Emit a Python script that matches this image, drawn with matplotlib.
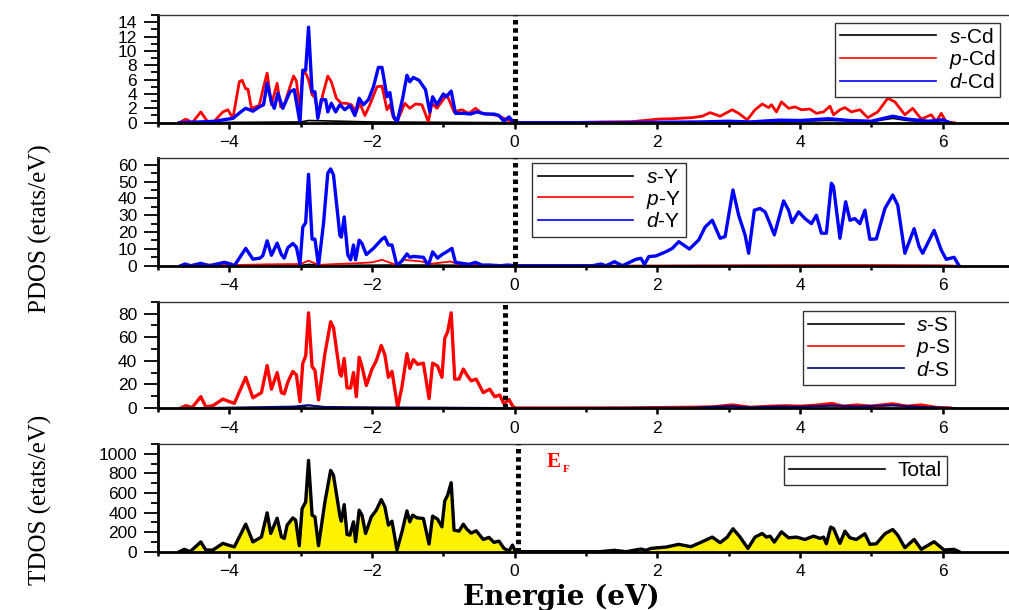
import matplotlib.pyplot as plt
from matplotlib.ticker import MultipleLocator

# ---- data (energy in eV, DOS in states/eV) ----
# Cd
e_scd = [-4.7, -3.0, -2.89, -2.0, 0.0, 2.5, 3.5, 4.0, 4.4, 4.7, 5.0, 5.3, 5.5, 5.8, 6.1]
scd = [0, 0.1, 0.3, 0.1, 0, 0.05, 0.1, 0.2, 0.3, 0.25, 0.15, 0.6, 0.3, 0.1, 0]

e_pcd = [-4.70, -4.61, -4.52, -4.40, -4.31, -4.23, -4.09, -4.02, -3.95, -3.86, -3.82, -3.77, -3.74,
         -3.69, -3.58, -3.52, -3.47, -3.41, -3.33, -3.28, -3.23, -3.15, -3.10, -3.06, -3.01, -2.97,
         -2.92, -2.89, -2.84, -2.80, -2.75, -2.69, -2.62, -2.57, -2.50, -2.43, -2.36, -2.29, -2.22,
         -2.17, -2.10, -2.03, -1.93, -1.86, -1.79, -1.75, -1.70, -1.65, -1.54, -1.47, -1.39, -1.30,
         -1.21, -1.16, -1.09, -0.95, -0.85, -0.74, -0.64, -0.55, -0.46, -0.36, -0.24, -0.15, -0.06, 0.01,
         0.72, 1.19, 1.65, 2.02, 2.21, 2.49, 2.63, 2.74, 2.88, 3.05, 3.14, 3.26, 3.37, 3.47, 3.56, 3.60,
         3.67, 3.74, 3.84, 3.93, 4.02, 4.14, 4.23, 4.33, 4.42, 4.47, 4.56, 4.63, 4.72, 4.84, 4.95, 5.09,
         5.23, 5.33, 5.47, 5.58, 5.70, 5.84, 5.91, 5.98, 6.05, 6.16]
pcd = [0, 0.5, 0, 1.5, 0.2, 0, 1.5, 1.8, 0.6, 5.7, 5.9, 4.7, 4.7,
       2.0, 2.4, 5.0, 6.9, 2.5, 5.5, 2.2, 2.5, 5.0, 6.5, 5.8, 1.8, 7.3,
       6.7, 6.0, 3.9, 3.5, 1.0, 3.9, 6.5, 5.7, 3.4, 2.7, 2.7, 2.5, 1.5,
       2.7, 1.0, 2.5, 5.0, 5.1, 1.8, 2.5, 0.7, 0.1, 2.7, 2.0, 2.6, 2.5,
       0.1, 2.7, 2.0, 3.9, 1.5, 1.8, 1.3, 2.0, 1.3, 1.2, 1.0, 0.6, 0.2, 0,
       0, 0.1, 0.15, 0.5, 0.55, 0.7, 0.9, 1.4, 0.9, 1.8, 1.3, 0.4, 1.8, 2.6, 2.1, 2.5,
       1.5, 2.9, 2.0, 2.2, 1.8, 1.9, 1.3, 1.5, 2.3, 1.1, 1.8, 2.1, 1.5, 1.8, 0.7, 1.5,
       3.4, 2.9, 1.1, 2.0, 0.5, 1.1, 0.15, 1.3, 0.1, 0]

e_dcd = [-4.70, -4.42, -4.19, -4.09, -3.95, -3.84, -3.77, -3.67, -3.58, -3.52, -3.47, -3.41, -3.37,
         -3.32, -3.25, -3.15, -3.09, -3.01, -2.97, -2.93, -2.89, -2.84, -2.80, -2.76, -2.71, -2.65,
         -2.62, -2.57, -2.51, -2.45, -2.38, -2.31, -2.24, -2.18, -2.12, -2.05, -1.98, -1.91, -1.86,
         -1.79, -1.75, -1.70, -1.65, -1.57, -1.51, -1.47, -1.42, -1.34, -1.25, -1.19, -1.15, -1.09,
         -1.00, -0.96, -0.89, -0.83, -0.71, -0.62, -0.53, -0.41, -0.29, -0.22, -0.15, -0.08, -0.03, 0.01,
         1.5, 2.6, 3.0, 3.3, 3.7, 4.0, 4.4, 4.7, 5.0, 5.3, 5.5, 5.8, 6.0, 6.1]
dcd = [0, 0.1, 0.2, 0.4, 0.6, 1.5, 2.0, 1.6, 2.2, 2.5, 5.5, 2.9, 2.0,
       4.1, 2.0, 4.3, 4.6, 0, 7.3, 7.3, 13.3, 4.3, 4.3, 0.6, 3.2, 3.2,
       1.5, 2.7, 1.5, 2.5, 1.8, 2.4, 1.0, 3.4, 2.5, 3.2, 5.0, 7.7, 7.7,
       3.6, 4.2, 1.0, 0, 3.4, 6.6, 5.7, 6.3, 5.9, 4.6, 1.5, 3.6, 2.5,
       4.0, 3.6, 4.4, 1.3, 1.3, 1.2, 1.5, 1.2, 1.2, 1.0, 0.2, 0.8, 0.2, 0,
       0, 0.1, 0.2, 0.1, 0.35, 0.3, 0.55, 0.3, 0.2, 0.9, 0.5, 0.2, 0.4, 0]

# Y
e_sy = [-4.7, -3.0, -2.89, -2.5, -1.6, -0.9, 0.0, 2.0, 4.0, 6.0, 6.2]
sy = [0, 0.3, 0.8, 0.3, 0.5, 0.4, 0, 0.1, 0.2, 0.1, 0]

e_py = [-4.7, -4.4, -4.0, -3.5, -3.0, -2.89, -2.75, -2.5, -2.2, -2.0, -1.86, -1.65, -1.55, -1.3,
        -1.2, -0.9, -0.8, -0.5, 0.0, 1.5, 3.0, 4.0, 5.0, 6.0, 6.2]
py = [0, 0.8, 0.3, 0.8, 1.0, 3.0, 0.5, 1.0, 1.5, 2.0, 3.5, 0.3, 3.5, 2.5,
      1.0, 2.5, 1.0, 0.5, 0, 0, 0.2, 0.3, 0.4, 0.2, 0]

e_dy = [-4.68, -4.62, -4.54, -4.40, -4.28, -4.07, -3.98, -3.93, -3.86, -3.77, -3.67, -3.57, -3.53,
        -3.47, -3.41, -3.33, -3.27, -3.23, -3.18, -3.11, -3.06, -3.01, -2.97, -2.93, -2.89, -2.84,
        -2.80, -2.75, -2.68, -2.62, -2.58, -2.54, -2.45, -2.43, -2.39, -2.34, -2.30, -2.26, -2.23,
        -2.18, -2.14, -2.08, -1.98, -1.86, -1.82, -1.77, -1.72, -1.65, -1.58, -1.51, -1.47, -1.42,
        -1.28, -1.21, -1.15, -1.08, -1.02, -0.94, -0.88, -0.83, -0.74, -0.64, -0.55, -0.46, -0.36,
        -0.20, -0.10, 0.0,
        1.09, 1.21, 1.28, 1.40, 1.51, 1.60, 1.70, 1.77, 1.82, 1.88, 1.98, 2.12, 2.21, 2.30, 2.45,
        2.58, 2.67, 2.77, 2.88, 2.95, 3.06, 3.14, 3.23, 3.28, 3.36, 3.44, 3.51, 3.56, 3.64, 3.77,
        3.84, 3.89, 3.98, 4.07, 4.16, 4.23, 4.30, 4.37, 4.44, 4.47, 4.56, 4.64, 4.70, 4.77, 4.84,
        4.91, 4.98, 5.07, 5.19, 5.30, 5.37, 5.47, 5.60, 5.67, 5.72, 5.88, 5.98, 6.05, 6.16, 6.23]
dy = [0, 1, 0, 1.4, 0, 2, 1, 0, 4.5, 10.3, 3.9, 4.5, 6,
      14.8, 6.2, 13.4, 6.6, 4.5, 10.7, 13.2, 11, 0.8, 23, 25.5, 54.3, 15.8,
      15.8, 0, 25, 55, 57.5, 54, 18, 17, 29, 6.6, 3.5, 12.3, 3.5,
      15.2, 13.2, 6.6, 10.3, 15.8, 17, 12.3, 12.3, 0, 2.9, 7, 5, 5.5,
      5, 0, 8.2, 4.5, 6.6, 8.6, 10.3, 2, 1.4, 0.8, 2, 0.4, 0.4,
      0, 0.4, 0,
      0, 1, 0, 2.4, 0, 1.8, 3.8, 4.4, 0.8, 5.4, 5.8, 8.3, 10.3, 14.3, 9.9,
      15.3, 23, 27, 16.3, 17.3, 45, 30, 18.3, 7.4, 33, 34, 32, 27, 18.3, 38.5,
      33, 25.6, 32, 28, 25, 30, 19.3, 19.3, 49, 47, 16.3, 38, 27, 28, 25,
      33, 15.7, 15.9, 34, 42, 36, 7.4, 22, 11.3, 7.4, 21, 9.3, 3.8, 5, 0]

# S
e_ss = [-4.5, -3.5, -3.0, -2.89, -2.5, -2.0, -1.5, -1.0, 0.0, 2.5, 3.05, 3.3, 3.7, 4.0, 4.45,
        4.8, 5.3, 5.7, 6.0, 6.2]
ss = [0.2, 0.5, 1.0, 2.0, 0.6, 0.4, 0.3, 0.3, 0, 0.3, 1.5, 0.5, 1.2, 1.0, 1.8,
      1.2, 2.0, 0.8, 0.3, 0]

e_ps = [-4.68, -4.61, -4.52, -4.40, -4.33, -4.23, -4.09, -4.00, -3.93, -3.77, -3.67, -3.55, -3.47,
        -3.41, -3.33, -3.27, -3.23, -3.18, -3.11, -3.06, -3.01, -2.97, -2.93, -2.89, -2.84, -2.80,
        -2.75, -2.66, -2.58, -2.54, -2.45, -2.43, -2.39, -2.35, -2.30, -2.26, -2.22, -2.18, -2.14,
        -2.08, -2.00, -1.94, -1.87, -1.82, -1.77, -1.72, -1.64, -1.58, -1.51, -1.47, -1.42, -1.36,
        -1.28, -1.20, -1.15, -1.08, -1.02, -0.98, -0.94, -0.89, -0.84, -0.78, -0.72, -0.67, -0.61,
        -0.54, -0.44, -0.35, -0.28, -0.21, -0.15, -0.08, -0.03, 0.01,
        1.5, 2.0, 2.5, 2.8, 3.05, 3.3, 3.6, 3.8, 4.0, 4.2, 4.45, 4.6, 4.8, 5.0, 5.3, 5.5, 5.7,
        5.9, 6.1]
ps = [0, 2, 0.5, 9.6, 1, 2, 7.6, 5.4, 4, 26, 8.7, 13, 36,
      16, 30, 13, 12, 22, 31, 28, 5.4, 38, 44, 80.6, 35, 32,
      6.8, 46, 73, 68, 29, 27, 42, 17, 17, 30, 9.6, 43, 35,
      19, 33, 40, 53, 45, 26, 31, 0.5, 18, 46, 33.5, 41, 37,
      38, 8, 38, 35.5, 26, 59, 64.5, 80.6, 24.5, 24.5, 33, 28, 23,
      24.5, 13, 16, 9.6, 11, 3.4, 7.3, 1.7, 0,
      0, 0.3, 0.6, 1.0, 2.6, 0.5, 1.5, 1.8, 1.5, 2.2, 3.8, 1.5, 2.5, 1.5, 3.5, 1.5, 2.5,
      0.5, 0]

e_ds = [-4.6, -3.8, -3.4, -3.1, -2.89, -2.7, -2.4, -2.0, -1.5, -1.0, -0.5, 0.0, 2.5, 3.05, 3.3,
        3.7, 4.0, 4.45, 4.8, 5.3, 5.7, 6.0, 6.2]
ds = [0, 0.5, 1.0, 1.3, 2.5, 1.0, 0.8, 0.6, 0.5, 0.4, 0.2, 0, 0.4, 1.8, 0.6,
      1.4, 1.2, 2.2, 1.4, 2.4, 1.0, 0.4, 0]

# Total
e_tot = [-4.70, -4.63, -4.55, -4.40, -4.33, -4.23, -4.09, -4.02, -3.93, -3.77, -3.67, -3.55, -3.47,
         -3.42, -3.33, -3.27, -3.23, -3.19, -3.11, -3.07, -3.02, -2.98, -2.93, -2.89, -2.84, -2.80,
         -2.75, -2.66, -2.58, -2.54, -2.45, -2.43, -2.39, -2.35, -2.31, -2.26, -2.23, -2.18, -2.14,
         -2.09, -2.01, -1.94, -1.87, -1.82, -1.77, -1.72, -1.65, -1.58, -1.51, -1.47, -1.43, -1.37,
         -1.28, -1.20, -1.15, -1.08, -1.02, -0.98, -0.94, -0.89, -0.85, -0.78, -0.72, -0.67, -0.61,
         -0.54, -0.44, -0.36, -0.29, -0.22, -0.15, -0.08, -0.03, 0.01,
         1.19, 1.40, 1.56, 1.77, 1.84, 1.91, 2.12, 2.30, 2.47, 2.60, 2.77, 2.88, 2.98, 3.06, 3.15,
         3.27, 3.37, 3.47, 3.53, 3.58, 3.64, 3.74, 3.84, 3.95, 4.07, 4.19, 4.28, 4.33, 4.37, 4.43,
         4.47, 4.56, 4.63, 4.70, 4.79, 4.91, 4.98, 5.07, 5.19, 5.30, 5.37, 5.47, 5.60, 5.70, 5.88,
         6.02, 6.16, 6.23]
tot = [0, 24, 0, 100, 17, 17, 85, 68, 50, 281, 100, 150, 397,
       186, 342, 152, 135, 271, 345, 322, 61, 440, 508, 932, 373, 356,
       61, 508, 830, 780, 366, 312, 481, 176, 169, 305, 102, 424, 373,
       186, 356, 424, 532, 458, 271, 312, 17, 203, 417, 305, 373, 346,
       339, 78, 363, 332, 254, 519, 576, 705, 220, 210, 281, 230, 190,
       214, 125, 146, 95, 108, 34, 7, 68, 0,
       0, 14, 0, 27, 14, 34, 47, 75, 51, 92, 149, 92, 149, 234, 159,
       34, 149, 186, 149, 159, 98, 203, 142, 149, 125, 159, 136, 149, 81, 251,
       237, 85, 210, 142, 125, 183, 75, 81, 183, 227, 169, 41, 125, 24, 102,
       17, 24, 0]

plt.rcParams['font.family'] = ['Liberation Sans', 'DejaVu Sans']
plt.rcParams['mathtext.fontset'] = 'custom'
plt.rcParams['mathtext.it'] = 'Liberation Sans:italic'
plt.rcParams['mathtext.rm'] = 'Liberation Sans'

fig = plt.figure(figsize=(10.09, 6.10), dpi=100)

left, width = 0.1566, 0.8434
boxes = [(left, 0.7989, width, 0.1765), (left, 0.5644, width, 0.1766),
         (left, 0.3311, width, 0.1743), (left, 0.0956, width, 0.1765)]
ylims = [15, 64, 90, 1100]
ymaj = [2, 10, 20, 200]
ymin = [1, 5, 10, 100]
fermi = [0.0, 0.0, -0.13, 0.05]

axes = []
for i in range(4):
    ax = fig.add_axes(boxes[i])
    ax.set_xlim(-5.0, 6.93)
    ax.set_ylim(0, ylims[i])
    ax.xaxis.set_major_locator(MultipleLocator(2))
    ax.xaxis.set_minor_locator(MultipleLocator(1))
    ax.yaxis.set_major_locator(MultipleLocator(ymaj[i]))
    ax.yaxis.set_minor_locator(MultipleLocator(ymin[i]))
    ax.tick_params(axis='y', which='major', direction='out', length=10, width=1.3,
                   labelsize=12.5, pad=5)
    ax.tick_params(axis='y', which='minor', direction='out', length=5, width=1.3)
    ax.tick_params(axis='x', which='major', direction='out', length=4, width=1.8,
                   labelsize=12.5, pad=5)
    ax.tick_params(axis='x', which='minor', direction='out', length=3, width=1.8)
    ax.spines['right'].set_visible(False)
    ax.spines['top'].set_linewidth(1.0)
    ax.spines['top'].set_color('#333333')
    ax.spines['left'].set_linewidth(2.0)
    ax.spines['bottom'].set_linewidth(2.0)
    ax.axvline(fermi[i], color='black', lw=3.6, ls=(0, (0.9, 0.75)), zorder=5)
    axes.append(ax)

ax1, ax2, ax3, ax4 = axes

# Cd
ax1.plot(e_scd, scd, color='black', lw=1.2, label='$s$-Cd')
ax1.plot(e_pcd, pcd, color='#ff0000', lw=2.0, label='$p$-Cd')
ax1.plot(e_dcd, dcd, color='#0000ff', lw=2.4, label='$d$-Cd')

# Y
ax2.plot(e_sy, sy, color='black', lw=1.0, label='$s$-Y')
ax2.plot(e_py, py, color='#ff0000', lw=1.3, label='$p$-Y')
ax2.plot(e_dy, dy, color='#0000ff', lw=2.4, label='$d$-Y')

# S
ax3.plot(e_ss, ss, color='black', lw=1.0, label='$s$-S')
ax3.plot(e_ps, ps, color='#ff0000', lw=2.4, label='$p$-S')
ax3.plot(e_ds, ds, color='#000090', lw=1.3, label='$d$-S')

# Total
ax4.fill_between(e_tot, tot, 0, color='#fff200', lw=0)
ax4.plot(e_tot, tot, color='black', lw=2.4, label='Total')

leg_kw = dict(fontsize=15, frameon=True, fancybox=False, framealpha=1, edgecolor='#333333',
              handlelength=4.6, labelspacing=0.08, borderpad=0.25, borderaxespad=0,
              handletextpad=0.6)
for ax, loc, anchor in [(ax1, 'upper right', (0.99, 0.93)),
                        (ax2, 'upper left', (0.44, 0.955)),
                        (ax3, 'upper right', (0.937, 0.912)),
                        (ax4, 'upper right', (0.927, 0.89))]:
    lg = ax.legend(loc=loc, bbox_to_anchor=anchor, **leg_kw)
    lg.get_frame().set_linewidth(1.0)
    for ln in lg.get_lines():
        ln.set_linewidth(1.2)

# Fermi level label
ax4.text(0.45, 870, 'E', color='#ff0000', fontsize=15, fontweight='bold',
         family='Liberation Serif', va='baseline')
ax4.text(0.68, 810, 'F', color='#ff0000', fontsize=8, fontweight='bold',
         family='Liberation Serif', va='baseline')

fig.text(0.04, 0.625, 'PDOS (etats/eV)', rotation=90, ha='center', va='center',
         fontsize=18, family='Liberation Serif')
fig.text(0.04, 0.18, 'TDOS (etats/eV)', rotation=90, ha='center', va='center',
         fontsize=18, family='Liberation Serif')
fig.text(0.556, 0.02, 'Energie (eV)', ha='center', va='center',
         fontsize=20, fontweight='bold', family='DejaVu Serif')

fig.savefig('out.png', dpi=100)
